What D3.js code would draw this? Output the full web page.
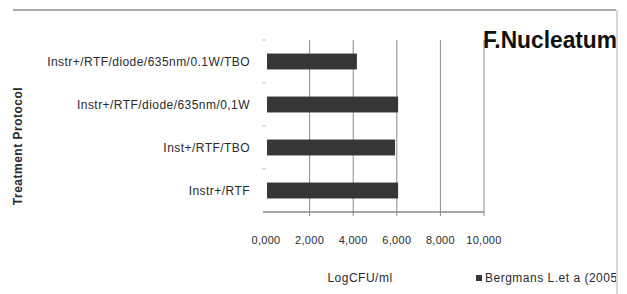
<!DOCTYPE html>
<html>
<head>
<meta charset="utf-8">
<script src="https://cdn.jsdelivr.net/npm/d3@7"></script>
<style>
  html, body { margin: 0; padding: 0; background: #fff; }
  svg { display: block; font-family: "Liberation Sans", Arial, sans-serif; }
</style>
</head>
<body>
<svg id="chart" width="627" height="294"></svg>
<script>
// Data
const categories = [
  "Instr+/RTF/diode/635nm/0.1W/TBO",
  "Instr+/RTF/diode/635nm/0,1W",
  "Inst+/RTF/TBO",
  "Instr+/RTF"
];
const values = [4.17, 6.06, 5.92, 6.06];
const xTicks = [0, 2, 4, 6, 8, 10];
const title = "F.Nucleatum";
const xTitle = "LogCFU/ml";
const yTitle = "Treatment Protocol";
const seriesName = "Bergmans L.et a (2005)";

const svg = d3.select("#chart");
const W = 627, H = 294;

const x = d3.scaleLinear().domain([0, 10]).range([266, 484]);
const y = d3.scaleBand().domain(categories).range([40, 212])
  .paddingInner(0.63).paddingOuter(0.315);

const loc = d3.formatLocale({decimal: ",", thousands: ".", grouping: [3], currency: ["", ""]});
const fmt = loc.format(".3f");

// clip for chart area
svg.append("defs").append("clipPath").attr("id", "area")
  .append("rect").attr("x", 0).attr("y", 0).attr("width", 616).attr("height", H);

const g = svg.append("g").attr("clip-path", "url(#area)");

// border lines
g.append("line").attr("x1", 13).attr("x2", 617).attr("y1", 10).attr("y2", 10)
  .attr("stroke", "#aaa").attr("stroke-width", 2);

// gridlines
g.append("g").selectAll("line").data(xTicks.filter(d => d > 0)).join("line")
  .attr("x1", d => x(d)).attr("x2", d => x(d))
  .attr("y1", 40).attr("y2", 216)
  .attr("stroke", "#8a8a8a").attr("stroke-width", 1);

// x axis line
g.append("line").attr("x1", 263).attr("x2", x(10)).attr("y1", 212).attr("y2", 212)
  .attr("stroke", "#888").attr("stroke-width", 1.5);

// left category ticks
const bounds = categories.map(c => y(c) - y.step() * y.paddingInner() / 2);
g.append("g").selectAll("line").data(bounds).join("line")
  .attr("x1", 262).attr("x2", 266).attr("y1", d => d).attr("y2", d => d)
  .attr("stroke", "#bbb").attr("stroke-width", 1);

// bars
g.append("g").selectAll("rect").data(categories).join("rect")
  .attr("x", x(0) + 1)
  .attr("y", d => y(d))
  .attr("width", (d, i) => x(values[i]) - x(0) - 1)
  .attr("height", y.bandwidth())
  .attr("fill", "#363636");

// category labels
g.append("g").selectAll("text").data(categories).join("text")
  .attr("x", 250).attr("y", d => y(d) + y.bandwidth() / 2)
  .attr("dy", "0.35em")
  .attr("text-anchor", "end")
  .attr("font-size", 12).attr("letter-spacing", 0.45)
  .attr("fill", "#2a2a2a")
  .text(d => d);

// x tick labels
g.append("g").selectAll("text").data(xTicks).join("text")
  .attr("x", d => x(d)).attr("y", 244)
  .attr("text-anchor", "middle")
  .attr("font-size", 11).attr("letter-spacing", 0.3)
  .attr("fill", "#2a2a2a")
  .text(d => fmt(d));

// x title
g.append("text").attr("x", 360).attr("y", 282).attr("text-anchor", "middle")
  .attr("font-size", 12).attr("letter-spacing", 0.5).attr("fill", "#2a2a2a")
  .text(xTitle);

// y title
g.append("text").attr("transform", "translate(22,146) rotate(-90)")
  .attr("text-anchor", "middle").attr("font-size", 12).attr("font-weight", "bold")
  .attr("letter-spacing", 0.5).attr("fill", "#2a2a2a")
  .text(yTitle);

// legend
g.append("rect").attr("x", 476).attr("y", 275).attr("width", 6).attr("height", 6).attr("fill", "#363636");
g.append("text").attr("x", 485).attr("y", 282).attr("font-size", 12).attr("letter-spacing", 0.5)
  .attr("fill", "#2a2a2a").text(seriesName);

// title
g.append("text").attr("x", 483).attr("y", 48).attr("font-size", 24).attr("font-weight", "bold")
  .attr("textLength", 134).attr("lengthAdjust", "spacingAndGlyphs")
  .attr("fill", "#111").text(title);

// right border
svg.append("line").attr("x1", 617).attr("x2", 617).attr("y1", 10).attr("y2", H)
  .attr("stroke", "#ccc").attr("stroke-width", 1.5);
</script>
</body>
</html>
